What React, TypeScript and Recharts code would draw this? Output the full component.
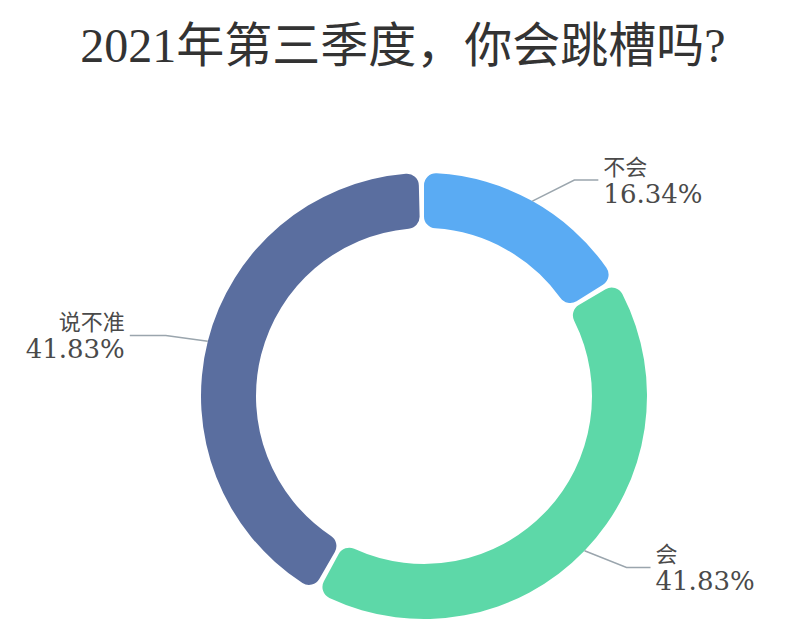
import React from 'react';
import { PieChart, Pie, Cell } from 'recharts';

const categories = ['不会', '会', '说不准'];
const shares = [16.34, 41.83, 41.83];
const colors = ['#5aabf3', '#5dd8a8', '#5a6e9f'];

const title = '2021年第三季度，你会跳槽吗?';

const data = categories.map((name, i) => ({ name, value: shares[i] }));

const RAD = Math.PI / 180;

// label line: short slanted leg out of the ring, then a flat leg to the text
const renderLabel = (props: any) => {
  const { cx, cy, midAngle, outerRadius, name, value } = props;
  const cos = Math.cos(-midAngle * RAD);
  const sin = Math.sin(-midAngle * RAD);
  const right = cos >= 0;
  const sx = cx + outerRadius * cos;
  const sy = cy + outerRadius * sin;
  const mx = sx + (right ? 42 : -42);
  const my = sy + 24 * sin;
  const ex = mx + (right ? 24 : -36);
  const tx = ex + (right ? 5 : -5);
  const anchor = right ? 'start' : 'end';
  return (
    <g>
      <polyline
        points={`${sx},${sy} ${mx},${my} ${ex},${my}`}
        fill="none"
        stroke="#9aa5ad"
        strokeWidth={1.5}
      />
      <text
        x={tx}
        y={my - 15}
        textAnchor={anchor}
        dominantBaseline="central"
        fill="#4a4a4a"
        fontSize={22}
        fontFamily="'Noto Sans CJK SC', sans-serif"
      >
        {name}
      </text>
      <text
        x={tx}
        y={my + 14}
        textAnchor={anchor}
        dominantBaseline="central"
        fill="#4a4a4a"
        fontSize={26}
        fontFamily="'DejaVu Serif', serif"
      >
        {`${value.toFixed(2)}%`}
      </text>
    </g>
  );
};

export default function App() {
  return (
    <div style={{ margin: -8, width: 807, height: 629, background: '#fff', position: 'relative' }}>
      <PieChart width={807} height={629}>
        <text
          x={403}
          y={45}
          textAnchor="middle"
          dominantBaseline="central"
          fill="#333"
          fontSize={48}
          fontFamily="'Liberation Serif', 'Noto Sans CJK SC', serif"
        >
          {title}
        </text>
        <Pie
          data={data}
          dataKey="value"
          nameKey="name"
          cx={419}
          cy={391}
          innerRadius={168}
          outerRadius={223}
          startAngle={90}
          endAngle={-270}
          paddingAngle={1.4}
          cornerRadius={12}
          stroke="none"
          label={renderLabel}
          labelLine={false}
          isAnimationActive={false}
        >
          {data.map((d, i) => (
            <Cell key={d.name} fill={colors[i]} />
          ))}
        </Pie>
      </PieChart>
    </div>
  );
}
